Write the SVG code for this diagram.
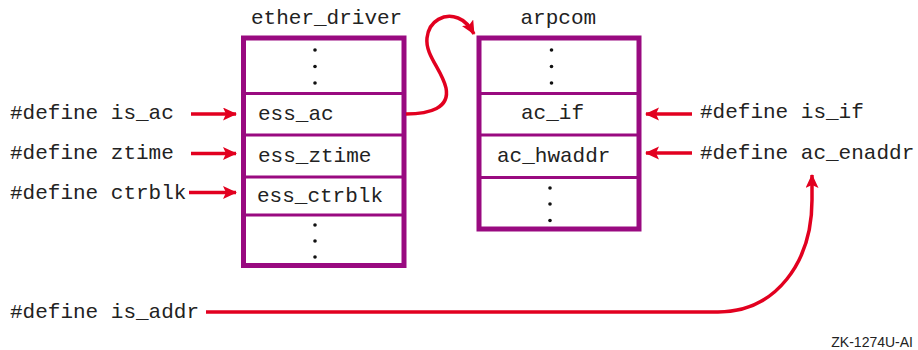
<svg xmlns="http://www.w3.org/2000/svg" width="918" height="350" viewBox="0 0 918 350">
  <style>
    .mono { font-family: "Liberation Mono", "Courier New", monospace; font-size: 21px; fill: #222; }
    .frame { fill: #fff; stroke: #990a80; stroke-width: 5; }
    .div { stroke: #990a80; stroke-width: 3; }
    .dot { fill: #111; }
    .wire { fill: none; stroke: #e2001f; stroke-width: 3.5; }
    .tag { font-family: "Liberation Sans", Arial, sans-serif; font-size: 14px; fill: #222; }
  </style>
  <defs>
    <marker id="head" markerUnits="userSpaceOnUse" markerWidth="16" markerHeight="14" refX="13" refY="6.5" orient="auto">
      <path d="M0,0 L14,6.5 L0,13 L3,6.5 Z" fill="#e2001f"/>
    </marker>
  </defs>
  <rect width="918" height="350" fill="#fff"/>

  <!-- ether_driver structure -->
  <g id="ether_driver">
    <text class="mono" x="251" y="24">ether_driver</text>
    <rect class="frame" x="243.5" y="38" width="160.5" height="227.5"/>
    <line class="div" x1="243.5" y1="93.5" x2="404" y2="93.5"/>
    <line class="div" x1="243.5" y1="135" x2="404" y2="135"/>
    <line class="div" x1="243.5" y1="177" x2="404" y2="177"/>
    <line class="div" x1="243.5" y1="215" x2="404" y2="215"/>
    <circle class="dot" cx="315" cy="50" r="1.8"/>
    <circle class="dot" cx="315" cy="66.5" r="1.8"/>
    <circle class="dot" cx="315" cy="83" r="1.8"/>
    <text class="mono" x="258" y="120">ess_ac</text>
    <text class="mono" x="258" y="162">ess_ztime</text>
    <text class="mono" x="257" y="202">ess_ctrblk</text>
    <circle class="dot" cx="315" cy="225" r="1.8"/>
    <circle class="dot" cx="315" cy="241" r="1.8"/>
    <circle class="dot" cx="315" cy="257" r="1.8"/>
  </g>

  <!-- arpcom structure -->
  <g id="arpcom">
    <text class="mono" x="520.5" y="24">arpcom</text>
    <rect class="frame" x="479" y="38" width="160" height="191"/>
    <line class="div" x1="479" y1="93.5" x2="639" y2="93.5"/>
    <line class="div" x1="479" y1="135" x2="639" y2="135"/>
    <line class="div" x1="479" y1="177.5" x2="639" y2="177.5"/>
    <circle class="dot" cx="551.5" cy="50" r="1.8"/>
    <circle class="dot" cx="551.5" cy="66.5" r="1.8"/>
    <circle class="dot" cx="551.5" cy="83" r="1.8"/>
    <text class="mono" x="521" y="119">ac_if</text>
    <text class="mono" x="497" y="162">ac_hwaddr</text>
    <circle class="dot" cx="550" cy="188" r="1.8"/>
    <circle class="dot" cx="550" cy="204" r="1.8"/>
    <circle class="dot" cx="550" cy="220.5" r="1.8"/>
  </g>

  <!-- macro labels -->
  <g id="def_is_ac"><text class="mono" x="10" y="119">#define is_ac</text></g>
  <g id="def_ztime"><text class="mono" x="10" y="159">#define ztime</text></g>
  <g id="def_ctrblk"><text class="mono" x="10" y="199">#define ctrblk</text></g>
  <g id="def_is_if"><text class="mono" x="700" y="118">#define is_if</text></g>
  <g id="def_ac_enaddr"><text class="mono" x="700" y="159">#define ac_enaddr</text></g>
  <g id="def_is_addr"><text class="mono" x="10" y="318">#define is_addr</text></g>

  <!-- connectors -->
  <g id="connectors">
    <line class="wire" x1="191" y1="114" x2="236" y2="114" marker-end="url(#head)"/>
    <line class="wire" x1="191" y1="153.5" x2="236" y2="153.5" marker-end="url(#head)"/>
    <line class="wire" x1="189" y1="192.5" x2="236" y2="192.5" marker-end="url(#head)"/>
    <line class="wire" x1="692" y1="114" x2="646" y2="114" marker-end="url(#head)"/>
    <line class="wire" x1="692" y1="153" x2="646" y2="153" marker-end="url(#head)"/>
    <path class="wire" d="M406,114 C430,114 450,108 446,88 C442,70 425,55 427,38 C429,20 445,13 458,18 C466,21 470,27 474,34" marker-end="url(#head)"/>
    <path class="wire" d="M206,312 H718 C776,312 812,262 812,200 L812,175" marker-end="url(#head)"/>
  </g>

  <text class="tag" x="913" y="347" text-anchor="end">ZK-1274U-AI</text>
</svg>
